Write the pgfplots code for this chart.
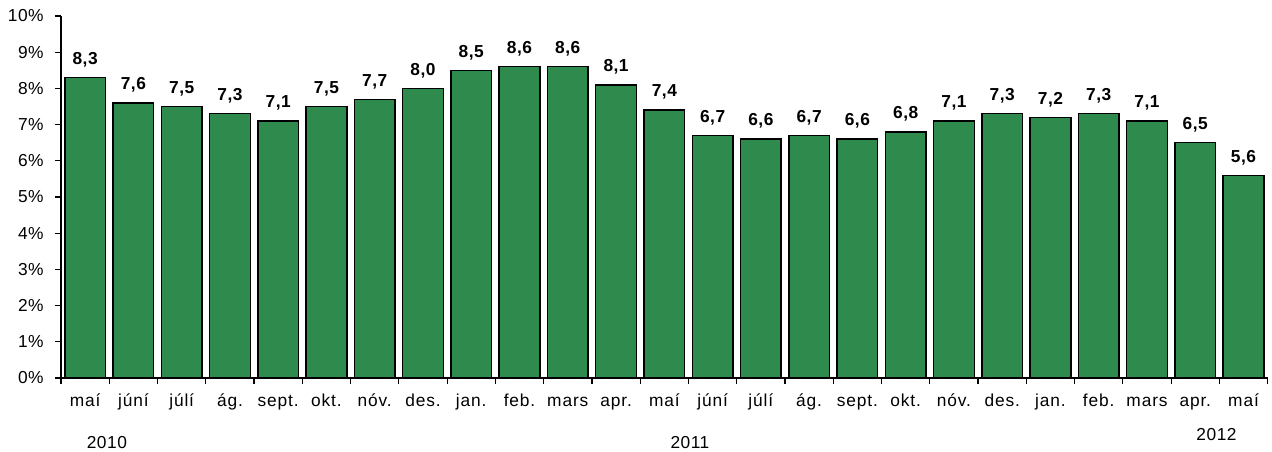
\documentclass[border=0pt]{standalone}
\usepackage{pgfplots}
\pgfplotsset{compat=1.18}
\usepackage{fontspec}
\setmainfont{Liberation Sans}
\definecolor{barg}{RGB}{46,138,77}
\newcommand{\chartfont}{\fontsize{13}{15}\selectfont\addfontfeatures{LetterSpace=3}}
\begin{document}
\begin{tikzpicture}[font=\chartfont]
\begin{axis}[
  at={(0,0)}, anchor=south west,
  scale only axis,
  width=905pt, height=271.5pt,
  xmin=-0.5, xmax=24.5,
  ymin=0, ymax=10,
  axis x line*=bottom, axis y line*=left,
  axis line style={-, line width=0.9pt},
  xtick={0,...,24},
  xticklabels={maí,júní,júlí,ág.,sept.,okt.,nóv.,des.,jan.,feb.,mars,apr.,maí,júní,júlí,ág.,sept.,okt.,nóv.,des.,jan.,feb.,mars,apr.,maí},
  minor xtick={-0.5,0.5,...,24.5},
  major x tick style={draw=none},
  minor tick length=4.5pt,
  major tick length=4.5pt,
  tick align=outside,
  tick style={black, line width=0.9pt},
  ytick={0,1,...,10},
  yticklabel={\pgfmathprintnumber{\tick}\%},
  /pgf/number format/assume math mode=true,
  tick label style={font=\chartfont},
  xticklabel style={yshift=-3.5pt, text height=9.5pt, text depth=2.5pt, font=\fontsize{13}{15}\selectfont\addfontfeatures{LetterSpace=5}},
  yticklabel style={xshift=-5pt},
  ybar, bar width=30.5pt,
  nodes near coords,
  nodes near coords style={font=\chartfont\bfseries, yshift=4pt,
    /pgf/number format/.cd, fixed, fixed zerofill, precision=1, use comma, assume math mode=true},
  clip=false,
]
\addplot[fill=barg, draw=black, line width=1.1pt] coordinates {
(0,8.3) (1,7.6) (2,7.5) (3,7.3) (4,7.1) (5,7.5) (6,7.7) (7,8.0) (8,8.5) (9,8.6)
(10,8.6) (11,8.1) (12,7.4) (13,6.7) (14,6.6) (15,6.7) (16,6.6) (17,6.8) (18,7.1) (19,7.3)
(20,7.2) (21,7.3) (22,7.1) (23,6.5) (24,5.6)};
\node at (axis cs:0.45,0) [yshift=-48.75pt] {2010};
\node at (axis cs:12.53,0) [yshift=-48.75pt] {2011};
\node at (axis cs:23.44,0) [yshift=-42.75pt] {2012};
\end{axis}
\pgfresetboundingbox
\path (-45.75pt,-55.5pt) rectangle (908.25pt,283.5pt);
\end{tikzpicture}
\end{document}
